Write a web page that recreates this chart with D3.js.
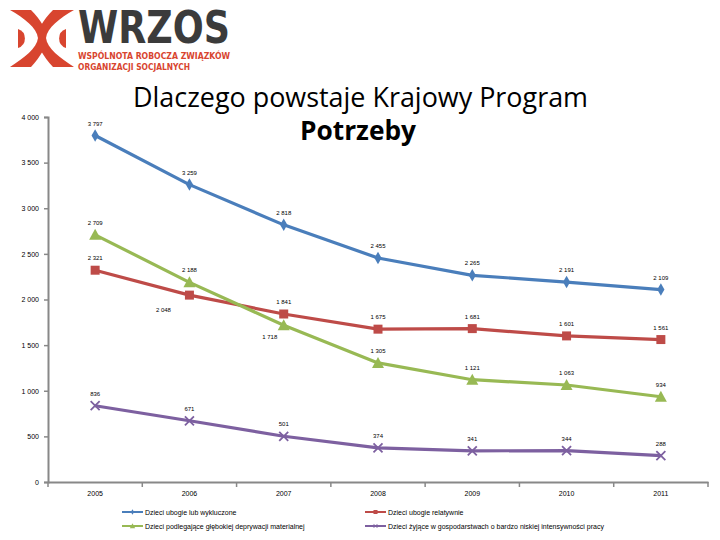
<!DOCTYPE html>
<html><head><meta charset="utf-8">
<script src="https://cdn.jsdelivr.net/npm/d3@7"></script>
<style>body{margin:0;background:#fff;} svg{display:block;}</style>
</head><body>
<svg id="c" width="720" height="540"></svg>
<script>
const years = ["2005","2006","2007","2008","2009","2010","2011"];
const seriesNames = [
  "Dzieci ubogie lub wykluczone",
  "Dzieci ubogie relatywnie",
  "Dzieci podlegające głębokiej deprywacji materialnej",
  "Dzieci żyjące w gospodarstwach o bardzo niskiej intensywności pracy"
];
const poorOrExcluded = [3797, 3259, 2818, 2455, 2265, 2191, 2109];
const relativePoor   = [2321, 2048, 1841, 1675, 1681, 1601, 1561];
const deprivation    = [2709, 2188, 1718, 1305, 1121, 1063, 934];
const lowWork        = [836, 671, 501, 374, 341, 344, 288];
const yTicks = [0, 500, 1000, 1500, 2000, 2500, 3000, 3500, 4000];

(function () {
const seriesValues = [poorOrExcluded, relativePoor, deprivation, lowWork];
const colors = ["#4a7ebb", "#be4b48", "#98b954", "#7d60a0"];
const markers = ["diamond", "square", "triangle", "cross"];
// label placement exceptions (series index, point index) -> offset
const labelOffsets = {"1-1": [-26, 17], "2-2": [-14, 14]};

const svg = d3.select("#c");
const pl = 48, pr = 708, pt = 117, pb = 482;
const xBand = d3.scaleBand().domain(years).range([pl, pr]);
const x = d => xBand(d) + xBand.bandwidth() / 2;
const y = d3.scaleLinear().domain([0, 4000]).range([pb, pt]);
const fmt = v => d3.format(",")(v).replace(/,/g, " ");

// Logo
const logo = svg.append("g").attr("fill", "#d8452f");
logo.append("path").attr("d", "M10,10 L31,10 C41,20 47,30 46,38 C47,46 41,56 31,67 L10,67 C24,58 37,48 38,38 C37,28 24,18 10,10 Z");
logo.append("path").attr("d", "M74,10 L53,10 C43,20 37,30 38,38 C37,46 43,56 53,67 L74,67 C60,58 47,48 46,38 C47,28 60,18 74,10 Z");
logo.append("path").attr("d", "M18,29 A10,10 0 0 1 18,48 Z");
logo.append("path").attr("d", "M66,29 A10,10 0 0 0 66,48 Z");
svg.append("text").attr("x", 78).attr("y", 43).attr("font-family", "DejaVu Sans Condensed, DejaVu Sans").attr("font-weight", "bold")
  .attr("font-size", 44).attr("fill", "#3b3b3b").attr("textLength", 152).attr("lengthAdjust", "spacingAndGlyphs").text("WRZOS");
svg.append("text").attr("x", 78).attr("y", 59).attr("font-family", "DejaVu Sans Condensed, DejaVu Sans").attr("font-weight", "bold")
  .attr("font-size", 8).attr("fill", "#d8452f").attr("textLength", 152).attr("lengthAdjust", "spacingAndGlyphs").text("WSPÓLNOTA ROBOCZA ZWIĄZKÓW");
svg.append("text").attr("x", 78).attr("y", 70).attr("font-family", "DejaVu Sans Condensed, DejaVu Sans").attr("font-weight", "bold")
  .attr("font-size", 8).attr("fill", "#d8452f").attr("textLength", 112).attr("lengthAdjust", "spacingAndGlyphs").text("ORGANIZACJI SOCJALNYCH");

// Title
svg.append("text").attr("x", 133).attr("y", 107).attr("font-family", "Open Sans, Lato, sans-serif")
  .attr("font-size", 28).attr("fill", "#000").attr("textLength", 455).attr("lengthAdjust", "spacingAndGlyphs")
  .text("Dlaczego powstaje Krajowy Program");
svg.append("text").attr("x", 300).attr("y", 140).attr("font-family", "Open Sans, Lato, sans-serif").attr("font-weight", "bold")
  .attr("font-size", 26).attr("fill", "#000").attr("textLength", 116).attr("lengthAdjust", "spacingAndGlyphs")
  .text("Potrzeby");

// Axes
const yAxis = d3.axisLeft(y).tickValues(yTicks).tickSize(4).tickFormat(fmt);
const gy = svg.append("g").attr("transform", `translate(${pl},0)`).call(yAxis);
gy.select(".domain").attr("stroke", "#888").attr("stroke-width", 2);
gy.selectAll(".tick line").attr("stroke", "#888").attr("stroke-width", 1.5);
gy.selectAll(".tick text").attr("font-family", "Liberation Sans, Arial, sans-serif").attr("font-size", 7).attr("fill", "#000").attr("x", -9);

const xAxis = d3.axisBottom(xBand).tickSize(0).tickSizeOuter(0);
const gx = svg.append("g").attr("transform", `translate(0,${pb})`).call(xAxis);
gx.select(".domain").attr("stroke", "#888").attr("stroke-width", 2);
gx.selectAll(".tick text").attr("font-family", "Liberation Sans, Arial, sans-serif").attr("font-size", 7).attr("fill", "#000").attr("dy", "1.6em");
const edges = years.map(d => xBand(d)).concat([pr]);
svg.append("g").selectAll("line").data(edges).join("line")
  .attr("x1", d => d).attr("x2", d => d).attr("y1", pb).attr("y2", pb + 5)
  .attr("stroke", "#888").attr("stroke-width", 1.5);

function marker(g, type, color, size) {
  if (type === "diamond") {
    g.append("path").attr("d", d3.symbol(d3.symbolDiamond, size * 5)()).attr("fill", color);
  } else if (type === "square") {
    g.append("path").attr("d", d3.symbol(d3.symbolSquare, size * 9)()).attr("fill", color);
  } else if (type === "triangle") {
    g.append("path").attr("d", "M0,-6 L6,5 L-6,5 Z").attr("fill", color);
  } else {
    g.append("path").attr("d", "M-4.5,-4.5 L4.5,4.5 M-4.5,4.5 L4.5,-4.5").attr("stroke", color).attr("stroke-width", 1.8).attr("fill", "none");
  }
}

const line = d3.line().x((d, i) => x(years[i])).y(d => y(d));
seriesValues.forEach((vals, si) => {
  svg.append("path").datum(vals).attr("d", line).attr("fill", "none")
    .attr("stroke", colors[si]).attr("stroke-width", 3.2).attr("stroke-linejoin", "round");
  vals.forEach((v, i) => {
    const g = svg.append("g").attr("transform", `translate(${x(years[i])},${y(v)})`);
    marker(g, markers[si], colors[si], 9);
  });
  vals.forEach((v, i) => {
    const off = labelOffsets[`${si}-${i}`] || [0, -10];
    svg.append("text").attr("x", x(years[i]) + off[0]).attr("y", y(v) + off[1])
      .attr("text-anchor", "middle").attr("font-family", "Liberation Sans, Arial, sans-serif")
      .attr("font-size", 6).attr("fill", "#000").text(fmt(v));
  });
});

// Legend
const legendPos = [[122, 512], [365, 512], [122, 526], [365, 526]];
seriesNames.forEach((name, si) => {
  const [lx, ly] = legendPos[si];
  const g = svg.append("g");
  g.append("line").attr("x1", lx).attr("x2", lx + 21).attr("y1", ly).attr("y2", ly).attr("stroke", colors[si]).attr("stroke-width", 2);
  const m = g.append("g").attr("transform", `translate(${lx + 10.5},${ly}) scale(0.45)`);
  marker(m, markers[si], colors[si], 9);
  g.append("text").attr("x", lx + 23).attr("y", ly + 2.5).attr("font-family", "Liberation Sans Narrow, Liberation Sans, Arial, sans-serif")
    .attr("font-size", 7).attr("fill", "#000").text(name);
});
})();
</script>
</body></html>
